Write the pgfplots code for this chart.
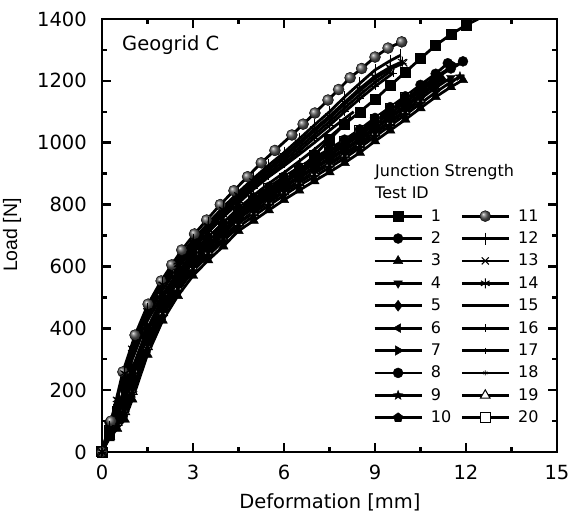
\documentclass[border=0pt]{standalone}
\usepackage{pgfplots}
\pgfplotsset{compat=1.18}
\usepackage{fontspec}
\setmainfont{DejaVu Sans}
\newfontfamily\arialfont{Liberation Sans}
\newcommand\tickfont{\fontsize{19.5}{22}\selectfont}
\newcommand\legfont{\fontsize{16}{18}\selectfont}
\pgfdeclareplotmark{fstar}{%
  \pgfpathmoveto{\pgfpointpolar{90}{\pgfplotmarksize}}%
  \pgfpathlineto{\pgfpointpolar{126}{0.42\pgfplotmarksize}}%
  \pgfpathlineto{\pgfpointpolar{162}{\pgfplotmarksize}}%
  \pgfpathlineto{\pgfpointpolar{198}{0.42\pgfplotmarksize}}%
  \pgfpathlineto{\pgfpointpolar{234}{\pgfplotmarksize}}%
  \pgfpathlineto{\pgfpointpolar{270}{0.42\pgfplotmarksize}}%
  \pgfpathlineto{\pgfpointpolar{306}{\pgfplotmarksize}}%
  \pgfpathlineto{\pgfpointpolar{342}{0.42\pgfplotmarksize}}%
  \pgfpathlineto{\pgfpointpolar{18}{\pgfplotmarksize}}%
  \pgfpathlineto{\pgfpointpolar{54}{0.42\pgfplotmarksize}}%
  \pgfpathclose\pgfusepathqfillstroke}
\begin{document}
\begin{tikzpicture}
\path[use as bounding box] (-102pt,-66pt) rectangle (468pt,452pt);
\begin{axis}[
  at={(0pt,0pt)}, anchor=south west,
  scale only axis, width=455pt, height=433pt,
  xmin=0, xmax=15, ymin=0, ymax=1400,
  xtick={0,3,6,9,12,15}, ytick={0,200,...,1400},
  minor x tick num=1, minor y tick num=1,
  tick align=inside, tick pos=both,
  major tick length=9pt, minor tick length=5pt,
  every tick/.style={black, line width=2.5pt},
  axis line style={line width=2.5pt},
  /pgf/number format/assume math mode=true,
  /pgf/number format/1000 sep={},
  ticklabel style={font=\tickfont},
  xticklabel style={inner sep=0pt, yshift=-13pt},
  yticklabel style={inner sep=0pt, xshift=-15pt},
  xlabel={Deformation [mm]},
  xlabel style={font=\tickfont, at={(axis description cs:0.501,0)}, anchor=north, inner sep=0pt, yshift=-41pt},
  ylabel={Load [N]},
  ylabel style={font=\arialfont\fontsize{19.5}{22}\selectfont, at={(axis description cs:-0.1978,0.501)}, anchor=center},
  clip=true,
  every axis plot/.append style={black, line width=2.8pt},
  legend columns=10, transpose legend, legend cell align=left,
  legend image code/.code={\draw[mark repeat=2,mark phase=2,#1] plot coordinates {(0pt,0pt) (23.5pt,0pt) (47pt,0pt)};},
  legend style={draw=none, fill=none, at={(0.589,0.566)}, anchor=north west, font=\legfont,
    row sep=8.4pt, nodes={inner sep=0pt, text height=12pt, text depth=2pt},
    /tikz/every odd column/.style={column sep=8pt},
    /tikz/every even column/.style={column sep=9pt}},
]
% 19 and 20 drawn first (hidden under the others)
\addplot[forget plot, mark=triangle*, mark size=5.5pt, mark options={fill=white, line width=1pt}] coordinates {(0,0)(0.25,50)(0.5,95)(0.75,130)(1,195)(1.5,340)(2,450)(2.5,530)(3,595)(3.5,645)(4,690)(4.5,740)(5,773)(5.5,807)(6,840)(6.5,871)(7,901)(7.5,930)(8,960)(8.5,993)(9,1030)(9.5,1065)(10,1100)(10.5,1137)};
\addplot[forget plot, mark=square*, mark size=5pt, mark options={fill=white, line width=1pt}] coordinates {(0,0)(0.25,70)(0.5,130)(0.75,185)(1,255)(1.5,392)(2,495)(2.5,575)(3,640)(3.5,690)(4,735)(4.5,785)(5,818)(5.5,852)(6,885)(6.5,916)(7,946)(7.5,975)(8,1005)(8.5,1038)(9,1075)(9.5,1110)(10,1145)};
% 1 squares
\addplot[mark=square*, mark size=5pt, mark options={line width=0.4pt}] coordinates {(0,0)(0.25,60)(0.5,110)(0.75,160)(1,230)(1.5,370)(2,475)(2.5,555)(3,620)(3.5,672)(4,718)(4.5,765)(5,800)(5.5,835)(6,870)(6.5,910)(7,960)(7.5,1010)(8,1060)(8.5,1100)(9,1140)(9.5,1185)(10,1228)(10.5,1272)(11,1315)(11.5,1350)(12,1380)(12.5,1405)(13,1430)};
\addlegendentry{1}
% 2 circle
\addplot[mark=*, mark size=5pt, mark options={line width=0.4pt}] coordinates {(0,0)(0.25,75)(0.5,125)(0.75,175)(1,245)(1.5,383)(2,485)(2.5,565)(3,630)(3.5,680)(4,725)(4.5,775)(5,808)(5.5,842)(6,875)(6.5,906)(7,936)(7.5,965)(8,995)(8.5,1028)(9,1065)(9.5,1100)(10,1135)(10.5,1172)(11,1208)(11.5,1240)(11.9,1263)};
\addlegendentry{2}
% 3 triangle
\addplot[mark=triangle*, mark size=5.5pt, mark options={line width=0.4pt}] coordinates {(0,0)(0.25,45)(0.5,75)(0.75,105)(1,170)(1.5,315)(2,425)(2.5,505)(3,570)(3.5,620)(4,665)(4.5,715)(5,748)(5.5,782)(6,815)(6.5,846)(7,876)(7.5,905)(8,935)(8.5,968)(9,1005)(9.5,1040)(10,1075)(10.5,1112)(11,1148)(11.5,1180)(11.9,1203)};
\addlegendentry{3}
% 4 triangle down
\addplot[mark=triangle*, mark size=5pt, mark options={rotate=180, line width=0.4pt}] coordinates {(0,0)(0.25,60)(0.5,100)(0.75,140)(1,205)(1.5,350)(2,455)(2.5,535)(3,600)(3.5,650)(4,695)(4.5,742)(5,778)(5.5,812)(6,845)(6.5,876)(7,906)(7.5,935)(8,965)(8.5,998)(9,1035)(9.5,1070)(10,1105)(10.5,1142)(11,1178)(11.5,1210)};
\addlegendentry{4}
% 5 diamond
\addplot[mark=diamond*, mark size=5.5pt, mark options={line width=0.4pt}] coordinates {(0,0)(0.25,80)(0.5,115)(0.75,160)(1,225)(1.5,365)(2,470)(2.5,550)(3,615)(3.5,665)(4,710)(4.5,758)(5,793)(5.5,827)(6,860)(6.5,891)(7,921)(7.5,950)(8,980)(8.5,1013)(9,1050)(9.5,1085)(10,1120)(10.5,1157)(11,1193)(11.2,1206)};
\addlegendentry{5}
% 6 triangle left
\addplot[mark=triangle*, mark size=5pt, mark options={rotate=90, line width=0.4pt}] coordinates {(0,0)(0.25,70)(0.5,110)(0.75,170)(1,240)(1.5,378)(2,480)(2.5,560)(3,625)(3.5,675)(4,720)(4.5,770)(5,803)(5.5,837)(6,870)(6.5,901)(7,931)(7.5,960)(8,990)(8.5,1023)(9,1060)(9.5,1095)(10,1130)(10.5,1167)(10.8,1188)};
\addlegendentry{6}
% 7 triangle right
\addplot[mark=triangle*, mark size=5.5pt, mark options={rotate=-90, line width=0.4pt}] coordinates {(0,0)(0.25,90)(0.5,130)(0.75,185)(1,255)(1.5,390)(2,492)(2.5,570)(3,635)(3.5,685)(4,730)(4.5,780)(5,813)(5.5,847)(6,880)(6.5,911)(7,941)(7.5,970)(8,1000)(8.5,1033)(9,1070)(9.5,1105)(10,1140)(10.5,1177)(11,1213)(11.6,1250)};
\addlegendentry{7}
% 8 circle
\addplot[mark=*, mark size=5pt, mark options={line width=0.4pt}] coordinates {(0,0)(0.25,95)(0.5,140)(0.75,200)(1,270)(1.5,400)(2,500)(2.5,580)(3,645)(3.5,695)(4,740)(4.5,790)(5,823)(5.5,857)(6,890)(6.5,921)(7,951)(7.5,980)(8,1010)(8.5,1043)(9,1080)(9.5,1115)(10,1150)(10.5,1187)(11,1223)(11.4,1257)};
\addlegendentry{8}
% 9 star
\addplot[mark=fstar, mark size=5pt, mark options={line width=0.4pt}] coordinates {(0,0)(0.25,55)(0.5,90)(0.75,125)(1,190)(1.5,335)(2,440)(2.5,520)(3,585)(3.5,635)(4,682)(4.5,728)(5,763)(5.5,797)(6,830)(6.5,862)(7,890)(7.5,920)(8,950)(8.5,984)(9,1020)(9.5,1055)(10,1090)(10.5,1127)(11,1163)(11.5,1196)(11.8,1214)};
\addlegendentry{9}
% 10 pentagon
\addplot[mark=pentagon*, mark size=5pt, mark options={line width=0.4pt}] coordinates {(0,0)(0.25,65)(0.5,105)(0.75,150)(1,215)(1.5,357)(2,465)(2.5,545)(3,610)(3.5,660)(4,705)(4.5,755)(5,788)(5.5,822)(6,855)(6.5,886)(7,916)(7.5,945)(8,975)(8.5,1008)(9,1045)(9.5,1080)(10,1115)(10.5,1152)(11,1188)};
\addlegendentry{10}
% 11 ball
\addplot[mark=ball, mark size=5.5pt, mark options={ball color=gray!70!black, line width=0.4pt}] coordinates {(0,0)(0.3,100)(0.69,259)(1.09,378)(1.52,478)(1.95,553)(2.3,605)(2.63,653)(3.05,705)(3.45,750)(3.9,800)(4.35,845)(4.8,890)(5.25,935)(5.7,975)(6.26,1025)(6.63,1060)(7.02,1096)(7.45,1138)(7.8,1172)(8.18,1210)(8.56,1240)(9.0,1277)(9.43,1306)(9.88,1326)};
\addlegendentry{11}
% 12 |
\addplot[mark=|, mark size=6pt, mark options={line width=1pt}] coordinates {(0,0)(0.25,80)(0.5,175)(0.75,262)(1,340)(1.5,462)(2,548)(2.5,622)(3,685)(3.5,740)(4,792)(4.5,840)(5,885)(5.5,928)(6,968)(6.5,1012)(7,1057)(7.5,1100)(8,1148)(8.5,1192)(9,1235)(9.5,1265)(9.85,1283)};
\addlegendentry{12}
% 13 x
\addplot[mark=x, mark size=5pt, mark options={line width=1pt}] coordinates {(0,0)(0.25,75)(0.5,165)(0.75,250)(1,330)(1.5,452)(2,538)(2.5,610)(3,672)(3.5,726)(4,778)(4.5,825)(5,870)(5.5,912)(6,952)(6.5,995)(7,1038)(7.5,1080)(8,1125)(8.5,1168)(9,1208)(9.5,1238)(9.95,1258)};
\addlegendentry{13}
% 14 asterisk
\addplot[mark=asterisk, mark size=5pt, mark options={line width=1pt}] coordinates {(0,0)(0.25,78)(0.5,170)(0.75,255)(1,335)(1.5,456)(2,542)(2.5,615)(3,678)(3.5,732)(4,784)(4.5,831)(5,876)(5.5,918)(6,958)(6.5,1001)(7,1044)(7.5,1086)(8,1131)(8.5,1175)(9,1215)(9.5,1244)(9.9,1262)};
\addlegendentry{14}
% 15 plain
\addplot[mark=none] coordinates {(0,0)(0.25,70)(0.5,160)(0.75,245)(1,320)(1.5,440)(2,525)(2.5,595)(3,655)(3.5,710)(4,760)(4.5,805)(5,850)(5.5,890)(6,925)(6.5,962)(7,1000)(7.5,1040)(8,1078)(8.3,1100)};
\addlegendentry{15}
% 16 +
\addplot[mark=+, mark size=4pt, mark options={line width=0.8pt}] coordinates {(0,0)(0.25,70)(0.5,155)(0.75,240)(1,320)(1.5,445)(2,530)(2.5,600)(3,660)(3.5,712)(4,762)(4.5,808)(5,852)(5.5,893)(6,932)(6.5,973)(7,1015)(7.5,1056)(8,1100)(8.5,1142)(9,1182)(9.6,1225)};
\addlegendentry{16}
% 17 small |
\addplot[mark=|, mark size=3pt, mark options={line width=0.6pt}] coordinates {(0,0)(0.25,65)(0.5,140)(0.75,220)(1,300)(1.5,425)(2,510)(2.5,580)(3,640)(3.5,693)(4,742)(4.5,787)(5,830)(5.5,868)(6,903)(6.5,940)(7,978)(7.5,1018)(8,1060)(8.2,1082)};
\addlegendentry{17}
% 18 small star
\addplot[mark=asterisk, mark size=2.5pt, mark options={line width=0.6pt}] coordinates {(0,0)(0.25,72)(0.5,160)(0.75,245)(1,325)(1.5,448)(2,534)(2.5,605)(3,666)(3.5,719)(4,770)(4.5,816)(5,860)(5.5,902)(6,942)(6.5,984)(7,1026)(7.5,1068)(8,1112)(8.5,1155)(9,1195)(9.5,1230)};
\addlegendentry{18}
% legend entries for 19 and 20
\addlegendimage{black, line width=2.8pt, mark=triangle*, mark size=5.5pt, mark options={fill=white, line width=1pt}}
\addlegendentry{19}
\addlegendimage{black, line width=2.8pt, mark=square*, mark size=5pt, mark options={fill=white, line width=1pt}}
\addlegendentry{20}
\node[anchor=west, inner sep=0pt, font=\tickfont] at (axis cs:0.66,1316) {Geogrid C};
\node[anchor=west, inner sep=0pt, font=\legfont] at (axis cs:9.0,905) {Junction Strength};
\node[anchor=west, inner sep=0pt, font=\legfont] at (axis cs:9.0,837) {Test ID};
\end{axis}
\end{tikzpicture}
\end{document}
